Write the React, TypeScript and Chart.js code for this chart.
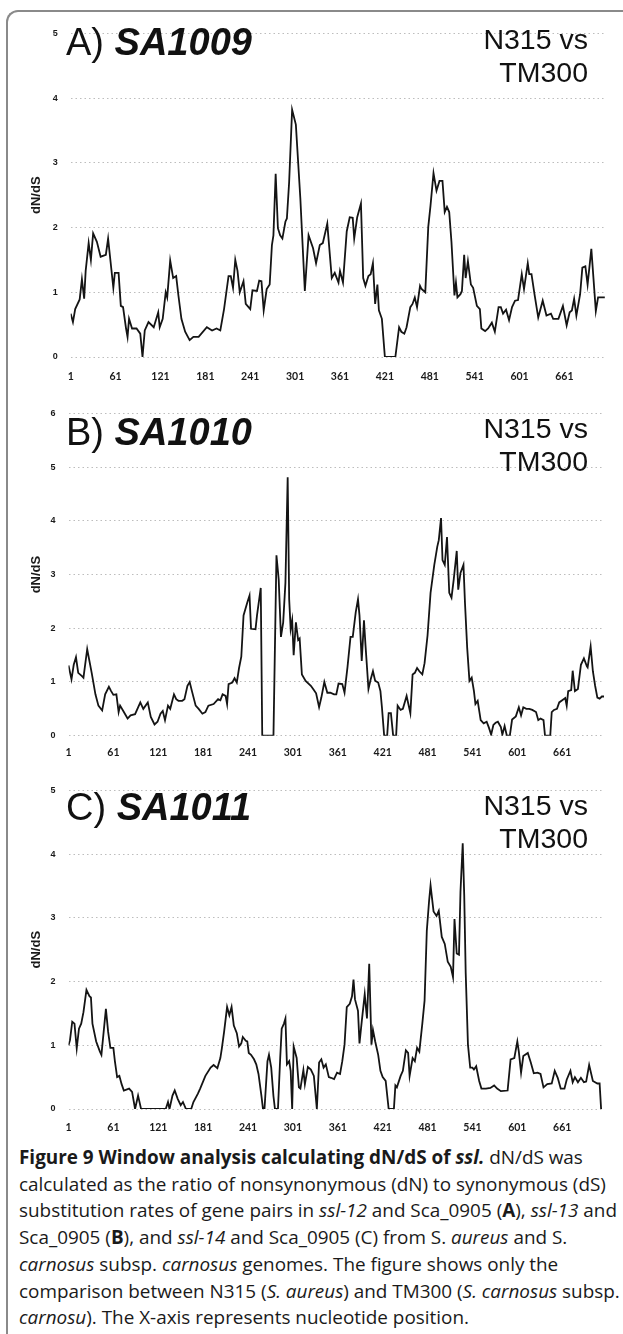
import React, { useEffect, useRef } from "react";
import { Chart, registerables } from "chart.js";

Chart.register(...registerables);

// ---------- data ----------
const xTickLabels = [1, 61, 121, 181, 241, 301, 361, 421, 481, 541, 601, 661];
const xMin = 1;
const xMax = 717;

// Panel A: SA1009 (nucleotide position -> dN/dS)
const posA = [
  1, 4, 7, 13, 16, 19, 21, 25, 28, 31,
  36, 41, 48, 51, 58, 60, 65, 68, 71, 75,
  77, 79, 83, 89, 94, 97, 100, 105, 112, 118,
  120, 124, 128, 130, 134, 138, 142, 145, 149, 154,
  160, 165, 172, 183, 190, 196, 201, 206, 212, 215,
  218, 221, 224, 227, 232, 235, 241, 244, 250, 253,
  256, 259, 263, 267, 270, 272, 275, 278, 281, 284,
  288, 290, 293, 297, 302, 308, 314, 319, 325, 329,
  334, 338, 344, 350, 354, 359, 361, 365, 370, 374,
  378, 380, 384, 389, 392, 395, 399, 402, 405, 408,
  411, 413, 417, 421, 435, 440, 443, 447, 450, 455,
  458, 461, 464, 468, 470, 475, 479, 482, 486, 490,
  494, 498, 501, 504, 507, 510, 514, 516, 518, 522,
  524, 527, 529, 532, 536, 539, 544, 548, 550, 555,
  559, 564, 568, 573, 576, 579, 583, 587, 591, 595,
  599, 604, 607, 612, 614, 617, 621, 626, 632, 637,
  643, 646, 653, 659, 664, 668, 671, 674, 677, 682,
  685, 689, 692, 697, 703, 706, 715,
];
const dndsA = [
  0.67, 0.54, 0.74, 0.89, 1.2, 0.9, 1.33, 1.76, 1.5, 1.91,
  1.78, 1.55, 1.58, 1.83, 1.07, 1.3, 1.3, 0.79, 0.77, 0.44,
  0.31, 0.59, 0.44, 0.44, 0.36, 0, 0.41, 0.54, 0.46, 0.69,
  0.46, 0.59, 1.0, 0.92, 1.49, 1.22, 1.25, 0.95, 0.59, 0.39,
  0.26, 0.31, 0.31, 0.46, 0.41, 0.44, 0.41, 0.74, 1.25, 1.25,
  1.07, 1.5, 1.33, 1.0, 1.17, 0.82, 0.74, 1.03, 1.02, 1.18,
  1.17, 0.72, 1.05, 1.12, 1.73, 1.88, 2.83, 1.99, 1.88, 1.83,
  2.09, 2.14, 2.7, 3.82, 3.59, 2.45, 1.02, 1.88, 1.68, 1.45,
  1.73, 1.76, 2.06, 1.22, 1.3, 1.15, 1.33, 1.15, 1.94, 2.16,
  2.15, 1.83, 2.16, 2.37, 1.22, 1.1, 1.25, 1.28, 1.45, 0.82,
  1.12, 0.72, 0.59, 0, 0, 0.46, 0.39, 0.36, 0.46, 0.77,
  0.82, 0.92, 0.77, 1.1, 1.05, 1.0, 2.01, 2.34, 2.84, 2.57,
  2.72, 2.72, 2.24, 2.32, 2.24, 1.78, 0.95, 1.15, 0.92, 0.97,
  1.02, 1.58, 1.22, 1.48, 1.12, 1.07, 0.79, 0.74, 0.44, 0.4,
  0.44, 0.53, 0.39, 0.77, 0.77, 0.67, 0.73, 0.57, 0.77, 0.87,
  0.88, 1.28, 1.05, 1.45, 1.28, 1.28, 0.97, 0.61, 0.87, 0.64,
  0.67, 0.59, 0.59, 0.79, 0.49, 0.69, 0.72, 0.9, 0.64, 0.97,
  1.38, 1.4, 1.12, 1.67, 0.71, 0.92, 0.92,
];

// Panel B: SA1010
const posB = [
  1, 5, 8, 11, 14, 19, 21, 26, 32, 37,
  41, 46, 50, 55, 58, 61, 65, 68, 70, 75,
  80, 84, 90, 97, 101, 107, 111, 116, 120, 124,
  127, 130, 134, 137, 142, 145, 148, 153, 156, 160,
  163, 166, 171, 175, 180, 184, 188, 195, 201, 204,
  207, 211, 213, 215, 220, 223, 226, 229, 232, 235,
  240, 243, 245, 251, 253, 258, 260, 275, 279, 282,
  285, 288, 291, 294, 296, 298, 300, 302, 305, 308,
  310, 313, 318, 325, 329, 332, 336, 339, 343, 347,
  351, 356, 359, 362, 367, 370, 374, 378, 381, 385,
  388, 390, 393, 396, 398, 402, 405, 408, 411, 415,
  418, 420, 423, 427, 429, 432, 435, 439, 441, 445,
  448, 453, 458, 461, 464, 467, 470, 474, 477, 481,
  485, 490, 494, 496, 499, 501, 504, 507, 510, 513,
  516, 520, 522, 525, 529, 531, 534, 537, 540, 543,
  545, 548, 552, 556, 560, 563, 566, 569, 572, 575,
  579, 581, 584, 587, 591, 594, 599, 603, 606, 609,
  613, 617, 621, 626, 629, 632, 636, 638, 645, 647,
  650, 654, 657, 661, 665, 667, 669, 673, 675, 678,
  682, 686, 690, 694, 695, 699, 702, 705, 708, 711,
  714, 717,
];
const dndsB = [
  1.31, 1.05, 1.32, 1.46, 1.17, 1.11, 1.08, 1.61, 1.17, 0.77,
  0.56, 0.47, 0.77, 0.91, 0.83, 0.76, 0.77, 0.44, 0.56, 0.44,
  0.32, 0.38, 0.4, 0.62, 0.5, 0.62, 0.35, 0.21, 0.26, 0.41,
  0.46, 0.29, 0.56, 0.5, 0.77, 0.68, 0.65, 0.65, 0.68, 0.93,
  1.0, 0.83, 0.56, 0.5, 0.41, 0.44, 0.56, 0.59, 0.68, 0.66,
  0.77, 0.74, 0.59, 0.96, 0.99, 1.07, 0.99, 1.26, 1.47, 2.24,
  2.48, 2.61, 1.99, 1.98, 2.24, 2.75, 0, 0, 3.36, 2.91,
  1.84, 2.11, 2.85, 4.81, 2.54, 1.99, 2.15, 1.5, 2.11, 1.78,
  1.81, 1.14, 1.02, 0.93, 0.85, 0.79, 0.53, 0.71, 1.0, 0.8,
  0.8, 0.77, 0.77, 0.97, 0.96, 0.8, 1.28, 1.84, 1.84, 2.3,
  2.54, 2.24, 1.39, 2.15, 1.69, 0.87, 1.05, 1.2, 1.02, 0.99,
  0.83, 0.53, 0, 0, 0.42, 0.42, 0, 0, 0.56, 0.48,
  0.5, 0.74, 0.42, 1.14, 1.17, 1.26, 1.2, 1.14, 1.35, 1.87,
  2.66, 3.18, 3.52, 3.64, 4.05, 3.27, 3.18, 3.7, 2.66, 2.57,
  2.91, 3.44, 2.72, 3.03, 3.18, 2.48, 1.63, 1.02, 1.08, 0.83,
  0.59, 0.65, 0.29, 0.23, 0.26, 0.15, 0.02, 0.2, 0.24, 0.26,
  0.16, 0.02, 0.18, 0, 0, 0.3, 0.36, 0.53, 0.38, 0.53,
  0.5, 0.5, 0.48, 0.44, 0.29, 0.32, 0.29, 0, 0, 0.44,
  0.48, 0.5, 0.62, 0.66, 0.7, 0.56, 0.83, 0.85, 1.21, 0.83,
  0.87, 1.32, 1.44, 1.29, 1.27, 1.66, 1.2, 0.93, 0.71, 0.69,
  0.73, 0.73,
];

// Panel C: SA1011
const posC = [
  1, 3, 6, 9, 12, 15, 18, 21, 25, 29,
  31, 33, 38, 43, 45, 48, 51, 54, 57, 61,
  63, 66, 69, 72, 75, 82, 86, 90, 94, 98,
  131, 134, 136, 140, 143, 147, 151, 154, 158, 165,
  168, 174, 177, 184, 191, 195, 200, 204, 206, 209,
  213, 216, 219, 222, 226, 229, 232, 234, 238, 240,
  242, 245, 249, 252, 255, 259, 261, 263, 267, 269,
  272, 275, 277, 281, 284, 286, 289, 291, 293, 296,
  298, 300, 302, 306, 309, 311, 315, 317, 321, 325,
  329, 333, 336, 339, 342, 345, 349, 352, 356, 360,
  364, 367, 370, 373, 377, 380, 382, 384, 388, 390,
  393, 397, 400, 403, 406, 408, 411, 415, 418, 421,
  425, 429, 436, 438, 440, 445, 448, 452, 455, 457,
  461, 464, 467, 470, 474, 477, 480, 483, 485, 489,
  493, 496, 500, 504, 508, 512, 515, 517, 520, 523,
  525, 528, 530, 532, 535, 538, 541, 543, 546, 550,
  553, 559, 565, 570, 574, 579, 588, 592, 597, 601,
  603, 606, 609, 615, 619, 623, 628, 632, 636, 641,
  647, 651, 655, 659, 664, 667, 672, 675, 678, 682,
  686, 690, 693, 697, 702, 708, 711, 713,
];
const dndsC = [
  1.0, 1.08, 1.37, 1.34, 0.95, 1.26, 1.34, 1.52, 1.87, 1.77,
  1.75, 1.34, 1.06, 0.9, 0.85, 1.21, 1.57, 1.21, 0.96, 0.96,
  0.75, 0.5, 0.52, 0.39, 0.29, 0.32, 0.27, 0, 0.21, 0,
  0, 0.11, 0, 0.21, 0.29, 0.16, 0.06, 0.11, 0, 0,
  0.11, 0.24, 0.32, 0.52, 0.65, 0.69, 0.64, 0.8, 0.95, 1.21,
  1.6, 1.47, 1.6, 1.31, 1.19, 0.98, 1.03, 1.13, 1.07, 1.06,
  0.88, 0.85, 0.78, 0.7, 0.55, 0.2, 0, 0, 0.75, 0.85,
  0.65, 0.2, 0, 0, 0.8, 1.26, 1.34, 1.42, 0.7, 0.75,
  0.6, 0, 0.98, 0.8, 0.34, 0.32, 0.61, 0.39, 0.66, 0.62,
  0.52, 0, 0.73, 0.78, 0.65, 0.7, 0.5, 0.49, 0.47, 0.57,
  0.55, 0.75, 1.01, 1.6, 1.65, 1.77, 2.03, 1.72, 1.54, 1.03,
  1.37, 1.8, 1.42, 2.28, 1.01, 1.24, 1.06, 0.85, 0.6, 0.5,
  0.44, 0, 0, 0.37, 0.34, 0.52, 0.6, 0.92, 0.88, 0.52,
  0.8, 0.75, 0.96, 0.9, 1.34, 1.7, 2.8, 3.26, 3.51, 3.1,
  3.03, 3.11, 2.7, 2.59, 2.31, 2.23, 2.07, 2.98, 2.44, 2.42,
  3.41, 4.17, 3.36, 2.13, 1.01, 0.65, 0.65, 0.62, 0.67, 0.44,
  0.32, 0.32, 0.33, 0.37, 0.32, 0.28, 0.29, 0.78, 0.8, 1.06,
  0.9, 0.57, 0.83, 0.88, 0.73, 0.56, 0.57, 0.55, 0.34, 0.39,
  0.4, 0.6, 0.49, 0.32, 0.32, 0.46, 0.6, 0.42, 0.5, 0.42,
  0.49, 0.42, 0.43, 0.69, 0.44, 0.4, 0.4, 0,
];

// ---------- chart panel ----------
type PanelProps = {
  positions: number[];
  values: number[];
  yMax: number;
  top: number;
  height: number;
  plotTop: number;
  plotBottom: number;
  plotLeft: number;
  plotRight: number;
  xTickPad: number;
};

const PAGE_W = 623;

function Panel(p: PanelProps) {
  const ref = useRef<HTMLCanvasElement | null>(null);
  useEffect(() => {
    const canvas = ref.current;
    if (!canvas) return;
    const chart = new Chart(canvas, {
      type: "line",
      data: {
        datasets: [
          {
            data: p.positions.map((x, i) => ({ x, y: p.values[i] })),
            borderColor: "#141414",
            borderWidth: 1.8,
            pointRadius: 0,
            tension: 0,
            fill: false,
          },
        ],
      },
      options: {
        animation: false,
        responsive: false,
        devicePixelRatio: 1,
        layout: {
          padding: {
            top: p.plotTop - p.top,
            right: PAGE_W - p.plotRight,
            left: 0,
            bottom: 0,
          },
        },
        plugins: { legend: { display: false }, tooltip: { enabled: false } },
        scales: {
          x: {
            type: "linear",
            min: xMin,
            max: xMax,
            grid: { display: false, drawTicks: false },
            border: { display: false },
            afterBuildTicks: (s: any) => {
              s.ticks = xTickLabels.map((v) => ({ value: v }));
            },
            afterFit: (s: any) => {
              s.height = p.top + p.height - p.plotBottom;
            },
            ticks: {
              autoSkip: false,
              maxRotation: 0,
              minRotation: 0,
              padding: p.xTickPad,
              color: "#1a1a1a",
              font: { family: "Lato", weight: "bold", size: 10.5 },
              callback: (v: any) => String(v),
            },
          },
          y: {
            min: 0,
            max: p.yMax,
            afterFit: (s: any) => {
              s.width = p.plotLeft;
            },
            grid: { color: "#bdbdbd", lineWidth: 1, drawTicks: false },
            border: { display: false, dash: [1.5, 3] },
            ticks: {
              stepSize: 1,
              padding: 13,
              color: "#1a1a1a",
              font: { family: "Liberation Sans", weight: "bold", size: 9 },
            },
            title: {
              display: true,
              text: "dN/dS",
              color: "#1a1a1a",
              font: { family: "Liberation Sans", weight: "bold", size: 13 },
              padding: { top: 28.5, bottom: 0 },
            },
          },
        },
      },
    });
    return () => chart.destroy();
  }, []);
  return (
    <canvas
      ref={ref}
      width={PAGE_W}
      height={p.height}
      style={{ position: "absolute", left: 0, top: p.top, width: PAGE_W, height: p.height }}
    />
  );
}

function PanelTitle({ letter, gene, top }: { letter: string; gene: string; top: number }) {
  return (
    <div
      style={{
        position: "absolute",
        left: 66,
        top,
        fontFamily: "'Liberation Sans', Arial, sans-serif",
        fontSize: 38,
        lineHeight: 1,
        color: "#111",
        whiteSpace: "nowrap",
      }}
    >
      {letter}){" "}
      <b>
        <i>{gene}</i>
      </b>
    </div>
  );
}

function Comparison({ top }: { top: number }) {
  return (
    <div
      style={{
        position: "absolute",
        right: PAGE_W - 588,
        top,
        fontFamily: "'Liberation Sans', Arial, sans-serif",
        fontSize: 28.5,
        lineHeight: "33px",
        color: "#111",
        textAlign: "right",
        whiteSpace: "nowrap",
      }}
    >
      <div>N315 vs</div>
      <div>TM300</div>
    </div>
  );
}

const captionLine: React.CSSProperties = { whiteSpace: "nowrap" };

export default function App() {
  return (
    <div
      style={{
        position: "absolute",
        left: 0,
        top: 0,
        width: PAGE_W,
        height: 1334,
        overflow: "hidden",
        background: "#fff",
      }}
    >
      <div
        style={{
          position: "absolute",
          left: 6,
          top: 10,
          width: PAGE_W,
          height: 1400,
          borderLeft: "2px solid #8a8a8a",
          borderTop: "2px solid #8a8a8a",
          borderTopLeftRadius: 12,
          boxSizing: "border-box",
        }}
      />
      <Panel positions={posA} values={dndsA} yMax={5} top={15} height={377} plotTop={29.7} plotBottom={357} plotLeft={70.7} plotRight={606.3} xTickPad={13} />
      <Panel positions={posB} values={dndsB} yMax={6} top={395} height={375} plotTop={407.3} plotBottom={735.7} plotLeft={68.5} plotRight={604.1} xTickPad={11} />
      <Panel positions={posC} values={dndsC} yMax={5} top={772} height={368} plotTop={783.3} plotBottom={1109} plotLeft={68.5} plotRight={604.1} xTickPad={12.5} />

      <PanelTitle letter="A" gene="SA1009" top={23} />
      <Comparison top={23} />
      <PanelTitle letter="B" gene="SA1010" top={413.3} />
      <Comparison top={412.3} />
      <PanelTitle letter="C" gene="SA1011" top={788.3} />
      <Comparison top={789} />

      <div
        style={{
          position: "absolute",
          left: 19,
          top: 1144,
          fontFamily: "'Open Sans', sans-serif",
          fontSize: 18.9,
          lineHeight: "26.7px",
          color: "#1a1a1a",
        }}
      >
        <div style={captionLine}>
          <b>
            Figure 9 Window analysis calculating dN/dS of <i>ssl.</i>
          </b>{" "}
          dN/dS was
        </div>
        <div style={captionLine}>calculated as the ratio of nonsynonymous (dN) to synonymous (dS)</div>
        <div style={captionLine}>
          substitution rates of gene pairs in <i>ssl-12</i> and Sca_0905 (<b>A</b>), <i>ssl-13</i> and
        </div>
        <div style={captionLine}>
          Sca_0905 (<b>B</b>), and <i>ssl-14</i> and Sca_0905 (C) from S. <i>aureus</i> and S.
        </div>
        <div style={captionLine}>
          <i>carnosus</i> subsp. <i>carnosus</i> genomes. The figure shows only the
        </div>
        <div style={captionLine}>
          comparison between N315 (<i>S. aureus</i>) and TM300 (<i>S. carnosus</i> subsp.
        </div>
        <div style={captionLine}>
          <i>carnosu</i>). The X-axis represents nucleotide position.
        </div>
      </div>
    </div>
  );
}
